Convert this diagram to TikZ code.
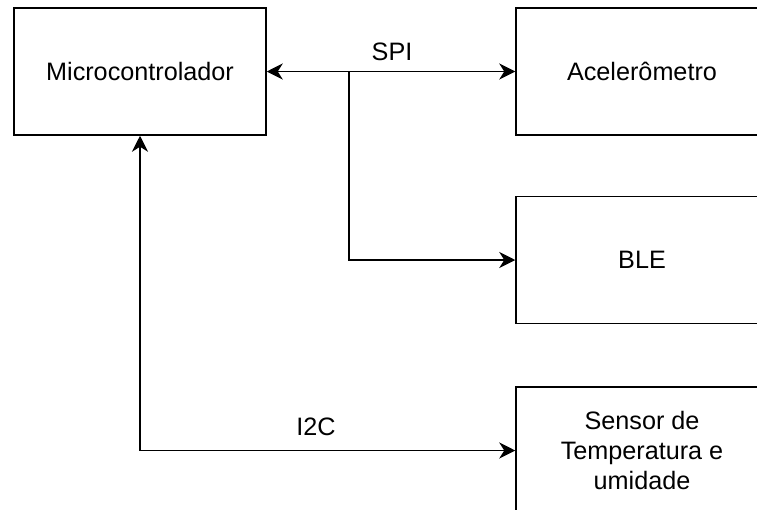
\documentclass[tikz,border=0pt]{standalone}
\usepackage{fontspec}
\setmainfont{Liberation Sans}
\usetikzlibrary{arrows.meta}
\tikzset{
  blockbox/.style={draw=black, line width=1.5pt, minimum width=252pt, minimum height=127pt, inner sep=0pt, align=center, font=\fontsize{25.2}{30.2}\selectfont},
  conn/.style={draw=black, line width=1.5pt},
  tip/.tip={Stealth[length=16pt, width=16pt, inset=5pt]},
  lbl/.style={font=\fontsize{25.2}{30.2}\selectfont, inner sep=0pt}
}
\begin{document}
\begin{tikzpicture}[x=1pt, y=-1pt]
\useasboundingbox (0,0) rectangle (757,509);
\clip (0,0) rectangle (757,509);
\node[blockbox] (micro) at (140,71.5) {Microcontrolador};
\node[blockbox] (acel) at (642,71.5) {Acelerômetro};
\node[blockbox] (ble) at (642,260) {BLE};
\node[blockbox] (sensor) at (642,450.5) {Sensor de\\Temperatura e\\umidade};
\coordinate (br) at (349,71.5);
\draw[conn, tip-tip] (micro.east) -- (acel.west);
\draw[conn, -tip] (br) |- (ble.west);
\draw[conn, tip-tip] (micro.south) |- (sensor.west);
\node[lbl] (spi) at (392,52) {SPI};
\node[lbl] (i2c) at (316,427) {I2C};
\end{tikzpicture}
\end{document}
